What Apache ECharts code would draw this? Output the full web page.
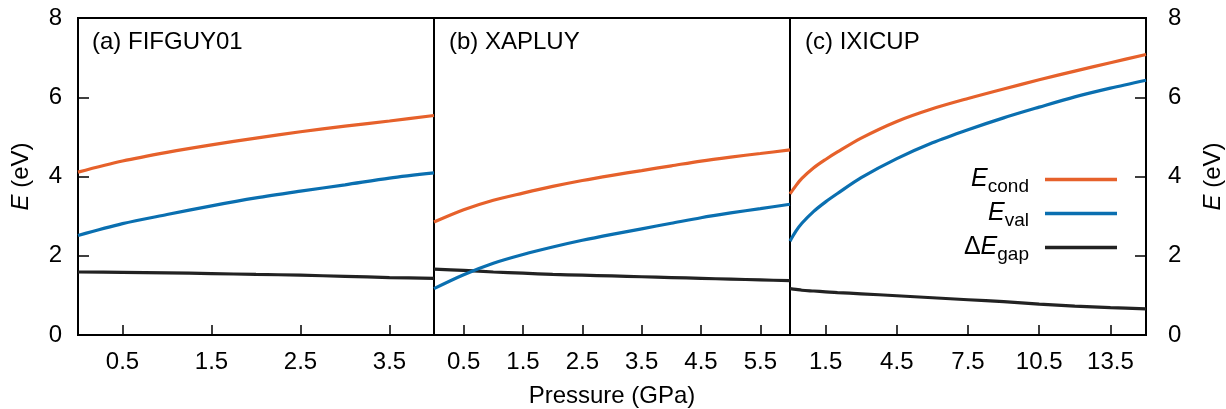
<!DOCTYPE html>
<html>
<head>
<meta charset="utf-8">
<script src="https://cdn.jsdelivr.net/npm/echarts@6/dist/echarts.min.js"></script>
<style>html,body{margin:0;padding:0;background:#fff;}#c{width:1226px;height:409px;}</style>
</head>
<body>
<div id="c"></div>
<script>
// Panel (a) FIFGUY01
const pA = [0, 0.5, 1, 1.5, 2, 2.5, 3, 3.5, 4];
const condA = [4.11, 4.39, 4.61, 4.80, 4.97, 5.13, 5.27, 5.40, 5.54];
const valA = [2.51, 2.81, 3.04, 3.26, 3.46, 3.63, 3.79, 3.96, 4.09];
const gapA = [1.59, 1.58, 1.57, 1.55, 1.53, 1.51, 1.48, 1.45, 1.43];
// Panel (b) XAPLUY
const pB = [0, 0.5, 1, 1.5, 2, 2.5, 3, 3.5, 4, 4.5, 5, 5.5, 6];
const condB = [2.85, 3.16, 3.40, 3.58, 3.75, 3.90, 4.03, 4.15, 4.27, 4.39, 4.49, 4.58, 4.67];
const valB = [1.17, 1.52, 1.81, 2.03, 2.22, 2.39, 2.54, 2.68, 2.82, 2.96, 3.08, 3.19, 3.30];
const gapB = [1.66, 1.63, 1.59, 1.56, 1.53, 1.51, 1.49, 1.47, 1.45, 1.43, 1.41, 1.39, 1.37];
// Panel (c) IXICUP
const pC = [0, 0.25, 0.5, 1, 1.5, 2, 3, 4.5, 6, 7.5, 9, 10.5, 12, 13.5, 15];
const condC = [3.56, 3.77, 3.95, 4.22, 4.43, 4.62, 4.97, 5.39, 5.71, 5.97, 6.21, 6.44, 6.66, 6.87, 7.08];
const valC = [2.37, 2.62, 2.82, 3.12, 3.36, 3.57, 3.97, 4.45, 4.85, 5.18, 5.48, 5.75, 6.01, 6.23, 6.43];
const gapC = [1.17, 1.15, 1.13, 1.11, 1.09, 1.07, 1.04, 0.99, 0.94, 0.89, 0.84, 0.78, 0.73, 0.69, 0.66];
// Tick labels
const xTicksA = [0.5, 1.5, 2.5, 3.5];
const xTicksB = [0.5, 1.5, 2.5, 3.5, 4.5, 5.5];
const xTicksC = [1.5, 4.5, 7.5, 10.5, 13.5];
const xRanges = [[0, 4], [0, 6], [0, 15]];
const panelTitles = ['(a) FIFGUY01', '(b) XAPLUY', '(c) IXICUP'];
const seriesNames = ['Econd', 'Eval', 'ΔEgap'];

const FONT = 'Liberation Sans, Arial, Helvetica, sans-serif';
const FS = 24;
const colors = ['#e6612b', '#0a6fb0', '#222222'];

const chart = echarts.init(document.getElementById('c'), null, {renderer: 'canvas'});

const gridLefts = [78, 434, 790];
const grids = gridLefts.map(l => ({
  left: l, width: 356, top: 18, height: 317,
  show: true, borderColor: '#000', borderWidth: 2, backgroundColor: 'transparent',
  containLabel: false, outerBoundsMode: 'none'
}));

const tickSets = [xTicksA, xTicksB, xTicksC];
const xAxes = tickSets.map((t, i) => ({
  type: 'value', gridIndex: i, min: xRanges[i][0], max: xRanges[i][1],
  position: 'bottom',
  axisLine: {show: false, onZero: false},
  splitLine: {show: false},
  axisTick: {show: true, inside: true, length: 10, customValues: t, lineStyle: {color: '#000', width: 1.5}},
  axisLabel: {show: true, customValues: t, margin: 15, color: '#000', fontSize: FS, fontFamily: FONT,
    formatter: v => String(v)},
  name: i === 1 ? 'Pressure (GPa)' : '',
  nameLocation: 'middle', nameGap: 49,
  nameTextStyle: {color: '#000', fontSize: FS, fontFamily: FONT}
}));

const yName = '{i|E} (eV)';
const yRich = {i: {fontStyle: 'italic', fontSize: FS, fontFamily: FONT, color: '#000'}};
const yAxes = [0, 1, 2].map(i => {
  const base = {
    type: 'value', gridIndex: i, min: 0, max: 8, interval: 2,
    axisLine: {show: false, onZero: false}, splitLine: {show: false}
  };
  if (i === 0) {
    return Object.assign(base, {
      position: 'left',
      axisTick: {show: true, inside: true, length: 11, lineStyle: {color: '#000', width: 1.5}},
      axisLabel: {show: true, margin: 16, color: '#000', fontSize: FS, fontFamily: FONT},
      name: yName, nameLocation: 'middle', nameRotate: 90, nameGap: 45,
      nameTextStyle: {color: '#000', fontSize: FS, fontFamily: FONT, rich: yRich}
    });
  } else if (i === 2) {
    return Object.assign(base, {
      position: 'right',
      axisTick: {show: true, inside: true, length: 11, lineStyle: {color: '#000', width: 1.5}},
      axisLabel: {show: true, margin: 22, color: '#000', fontSize: FS, fontFamily: FONT},
      name: yName, nameLocation: 'middle', nameRotate: 90, nameGap: 55,
      nameTextStyle: {color: '#000', fontSize: FS, fontFamily: FONT, rich: yRich}
    });
  }
  return Object.assign(base, {position: 'left', axisTick: {show: false}, axisLabel: {show: false}});
});

function pairs(xs, ys) { return xs.map((x, k) => [x, ys[k]]); }
const panelData = [
  [pA, condA, valA, gapA],
  [pB, condB, valB, gapB],
  [pC, condC, valC, gapC]
];
const series = [];
panelData.forEach((pd, i) => {
  [1, 2, 3].forEach((s, j) => {
    series.push({
      type: 'line', name: seriesNames[j], xAxisIndex: i, yAxisIndex: i,
      data: pairs(pd[0], pd[s]), smooth: 0.3,
      showSymbol: false, symbol: 'none',
      lineStyle: {color: colors[j], width: 3.2}, itemStyle: {color: colors[j]},
      silent: true, animation: false, z: 5 - j
    });
  });
});

const titles = panelTitles.map((t, i) => ({
  text: t, left: gridLefts[i] + (i === 0 ? 14 : 15), top: 30, padding: 0,
  textStyle: {color: '#000', fontSize: FS, fontWeight: 'normal', fontFamily: FONT}
}));

const legendRich = {
  e: {fontStyle: 'italic', fontSize: 25, fontFamily: FONT, color: '#000'},
  d: {fontSize: 25, fontFamily: FONT, color: '#000'},
  s: {fontSize: 19, fontFamily: FONT, color: '#000', padding: [14, 0, 0, 0]}
};

const option = {
  animation: false,
  backgroundColor: '#fff',
  title: titles,
  grid: grids,
  xAxis: xAxes,
  yAxis: yAxes,
  legend: {
    data: seriesNames.map((n, j) => ({name: n, icon: 'rect', itemStyle: {color: colors[j]}})),
    orient: 'vertical', align: 'right',
    right: 104, top: 162,
    itemWidth: 72, itemHeight: 3.5, itemGap: 5,
    selectedMode: false,
    textStyle: {padding: [0, 11, 0, 0], rich: legendRich},
    formatter: function (name) {
      if (name === 'Econd') return '{e|E}{s|cond}';
      if (name === 'Eval') return '{e|E}{s|val}';
      return '{d|Δ}{e|E}{s|gap}';
    }
  },
  series: series
};
chart.setOption(option);
</script>
</body>
</html>
